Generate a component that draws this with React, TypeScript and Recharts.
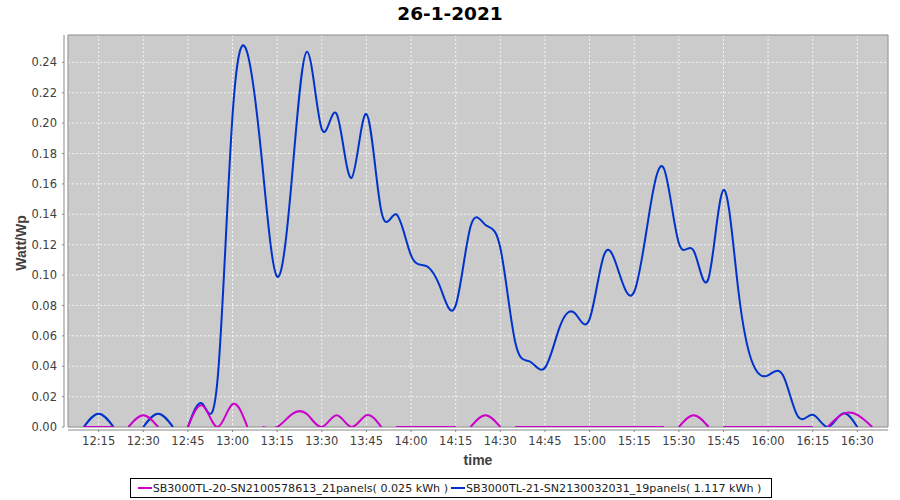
import { LineChart, Line, XAxis, YAxis, CartesianGrid, ReferenceArea } from 'recharts'

// Watt per Wp for two inverters, 26-1-2021, sampled every 5 minutes.
// A null entry breaks the line (the source has gaps between segments).

const X_TICKS = [
  '12:15', '12:30', '12:45', '13:00', '13:15', '13:30', '13:45', '14:00', '14:15',
  '14:30', '14:45', '15:00', '15:15', '15:30', '15:45', '16:00', '16:15', '16:30',
]
const Y_TICKS = [0, 0.02, 0.04, 0.06, 0.08, 0.1, 0.12, 0.14, 0.16, 0.18, 0.2, 0.22, 0.24]

const BLUE_TIMES = [
  '12:10', '12:15', '12:20', '12:25', '12:30', '12:35', '12:40', '12:42',
  '12:45', '12:50', '12:55', '13:00', '13:05', '13:10', '13:15', '13:20', '13:25',
  '13:30', '13:35', '13:40', '13:45', '13:50', '13:55', '14:00', '14:05', '14:10',
  '14:15', '14:20', '14:25', '14:30', '14:35', '14:40', '14:45', '14:50', '14:55',
  '15:00', '15:05', '15:10', '15:15', '15:20', '15:25', '15:30', '15:35', '15:40',
  '15:45', '15:50', '15:55', '16:00', '16:05', '16:10', '16:15', '16:20', '16:25', '16:30',
]
const BLUE_VALUES = [
  0, 0.0088, 0, null, 0, 0.0088, 0, null,
  0, 0.015, 0.032, 0.205, 0.246, 0.173, 0.099, 0.165, 0.247,
  0.196, 0.206, 0.164, 0.206, 0.142, 0.14, 0.113, 0.106, 0.091,
  0.08, 0.132, 0.133, 0.118, 0.056, 0.043, 0.039, 0.066, 0.075,
  0.071, 0.114, 0.101, 0.089, 0.14, 0.17, 0.121, 0.116, 0.098,
  0.156, 0.09, 0.041, 0.034, 0.034, 0.007, 0.008, 0, 0.0088, 0,
]

const MAGENTA_TIMES = [
  '12:10', '12:15', '12:20', '12:22', '12:25', '12:30', '12:35', '12:40',
  '12:45', '12:50', '12:55', '13:00', '13:05', '13:07',
  '13:10', '13:15', '13:20', '13:25', '13:30', '13:35', '13:40', '13:45', '13:50', '13:52',
  '13:55', '14:00', '14:05', '14:10', '14:15', '14:17',
  '14:20', '14:25', '14:30', '14:32',
  '14:35', '14:40', '14:45', '14:50', '14:55', '15:00', '15:05', '15:10', '15:15', '15:20', '15:25', '15:27',
  '15:30', '15:35', '15:40', '15:42',
  '15:45', '15:50', '15:55', '16:00', '16:05', '16:10', '16:15', '16:17',
  '16:20', '16:25', '16:30', '16:35',
]
const MAGENTA_VALUES = [
  0, 0, 0, null, 0, 0.0077, 0, null,
  0, 0.014, 0, 0.015, 0, null,
  0, 0, 0.0085, 0.0085, 0, 0.0077, 0, 0.0077, 0, null,
  0, 0, 0, 0, 0, null,
  0, 0.0077, 0, null,
  0, 0, 0, 0, 0, 0, 0, 0, 0, 0, 0, null,
  0, 0.0077, 0, null,
  0, 0, 0, 0, 0, 0, 0, null,
  0, 0.0085, 0.008, 0,
]

const SERIES = [
  { name: 'SB3000TL-20-SN2100578613_21panels( 0.025 kWh )', color: '#cc00cc' },
  { name: 'SB3000TL-21-SN2130032031_19panels( 1.117 kWh )', color: '#0033cc' },
]

const X_MIN = 4.7
const X_MAX = 280.3
const Y_MAX = 0.258

const toMin = (s: string) => {
  const [h, m] = s.split(':').map(Number)
  return (h - 12) * 60 + m
}
const fmtTime = (v: number) => {
  const h = 12 + Math.floor(v / 60)
  const m = Math.round(v % 60)
  return `${h}:${String(m).padStart(2, '0')}`
}

const blueData = BLUE_TIMES.map((s, i) => ({ t: toMin(s), v: BLUE_VALUES[i] }))
const magentaData = MAGENTA_TIMES.map((s, i) => ({ t: toMin(s), v: MAGENTA_VALUES[i] }))

const TICK_FONT = { fontFamily: 'DejaVu Sans', fontSize: 11.5, fill: '#404040' }

export default function App() {
  return (
    <div
      style={{
        position: 'absolute',
        left: 0,
        top: 0,
        width: 900,
        height: 500,
        background: '#fff',
        fontFamily: 'DejaVu Sans',
      }}
    >
      <div
        style={{
          position: 'absolute',
          top: 3,
          width: 900,
          textAlign: 'center',
          fontWeight: 'bold',
          fontSize: 18.5,
          color: '#000',
        }}
      >
        26-1-2021
      </div>

      <LineChart width={900} height={500} margin={{ top: 35, right: 12, bottom: 43, left: 20 }}>
        <CartesianGrid fill="#cbcbcb" stroke="#f4f4f4" strokeDasharray="2 2" />
        <ReferenceArea x1={X_MIN} x2={X_MAX} y1={0} y2={Y_MAX} fill="none" stroke="#888" strokeWidth={1} />
        <XAxis
          dataKey="t"
          type="number"
          domain={[X_MIN, X_MAX]}
          allowDataOverflow
          ticks={X_TICKS.map(toMin)}
          tickFormatter={fmtTime}
          height={30}
          tickSize={2}
          tickMargin={8}
          tick={TICK_FONT}
          axisLine={{ stroke: '#888', transform: 'translate(0 3)' }}
          tickLine={{ stroke: '#888', transform: 'translate(0 3)' }}
        />
        <YAxis
          type="number"
          domain={[0, Y_MAX]}
          allowDataOverflow
          ticks={Y_TICKS}
          tickFormatter={(v: number) => v.toFixed(2)}
          width={48}
          tickSize={2}
          tickMargin={9}
          tick={TICK_FONT}
          axisLine={{ stroke: '#888', transform: 'translate(-4 0)' }}
          tickLine={{ stroke: '#888', transform: 'translate(-4 0)' }}
        />
        <Line
          data={blueData}
          dataKey="v"
          type="natural"
          stroke={SERIES[1].color}
          strokeWidth={2}
          dot={false}
          isAnimationActive={false}
        />
        <Line
          data={magentaData}
          dataKey="v"
          type="natural"
          stroke={SERIES[0].color}
          strokeWidth={2}
          dot={false}
          isAnimationActive={false}
        />
      </LineChart>

      <div
        style={{
          position: 'absolute',
          left: 21,
          top: 243,
          transform: 'translate(-50%, -50%) rotate(-90deg)',
          fontFamily: 'Liberation Sans',
          fontWeight: 'bold',
          fontSize: 14,
          color: '#404040',
          whiteSpace: 'nowrap',
        }}
      >
        Watt/Wp
      </div>
      <div
        style={{
          position: 'absolute',
          left: 478,
          top: 460,
          transform: 'translate(-50%, -50%)',
          fontFamily: 'Liberation Sans',
          fontWeight: 'bold',
          fontSize: 14,
          color: '#404040',
        }}
      >
        time
      </div>

      <div
        style={{
          position: 'absolute',
          left: 130,
          top: 478,
          width: 640,
          height: 18,
          border: '1px solid #000',
          display: 'flex',
          alignItems: 'center',
          justifyContent: 'center',
          fontSize: 11.1,
          color: '#222',
          whiteSpace: 'nowrap',
        }}
      >
        {SERIES.map((s) => (
          <span key={s.name} style={{ display: 'inline-flex', alignItems: 'center', marginRight: 3 }}>
            <span style={{ display: 'inline-block', width: 14, height: 2, background: s.color, marginRight: 1 }} />
            {s.name}
          </span>
        ))}
      </div>
    </div>
  )
}
